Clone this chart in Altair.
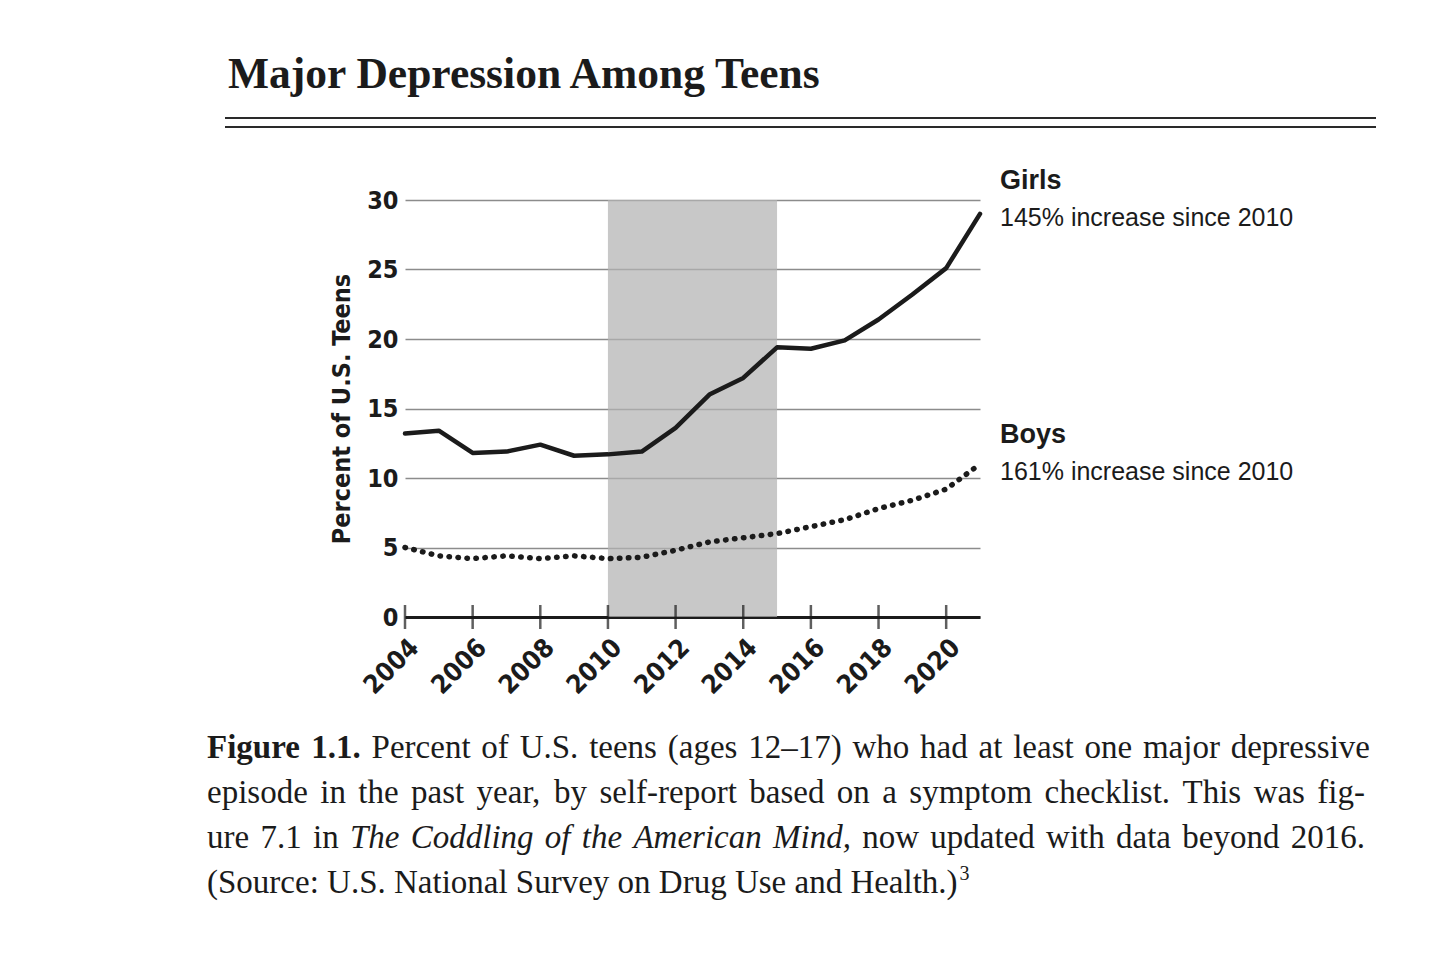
import altair as alt
import pandas as pd

# ---------------- data ----------------
years = list(range(2004, 2022))
girls = [13.2, 13.4, 11.8, 11.9, 12.4, 11.6, 11.7, 11.9, 13.6, 16.0, 17.2, 19.4,
         19.3, 19.9, 21.4, 23.2, 25.1, 29.0]
boys = [5.0, 4.4, 4.2, 4.4, 4.2, 4.4, 4.2, 4.3, 4.8, 5.4, 5.7, 6.0,
        6.5, 7.0, 7.8, 8.4, 9.2, 11.0]
tick_years = [2004, 2006, 2008, 2010, 2012, 2014, 2016, 2018, 2020]
y_ticks = [0, 5, 10, 15, 20, 25, 30]
band_start = [2010]
band_end = [2015]

title_text = "Major Depression Among Teens"
y_title = "Percent of U.S. Teens"
series_names = ["Girls", "Boys"]
series_notes = ["145% increase since 2010", "161% increase since 2010"]
cap1_bold = "Figure 1.1."
cap1_rest = "Percent of U.S. teens (ages 12\u201317) who had at least one major depressive"
cap2 = "episode in the past year, by self-report based on a symptom checklist. This was fig-"
cap3_a = "ure 7.1 in"
cap3_ital = "The Coddling of the American Mind,"
cap3_b = "now updated with data beyond 2016."
cap4 = "(Source: U.S. National Survey on Drug Use and Health.)"
cap4_note = "3"

# ---------------- layout ----------------
W, H = 575, 417
INK = "#1b1b1b"
SANS_C = "DejaVu Sans Condensed"
SANS = "Liberation Sans"
SERIF = "Liberation Serif"

# Times-compatible advance widths (per 1000 em) used to justify the caption
_REG = dict(zip("abcdefghijklmnopqrstuvwxyz",
                [444, 500, 444, 500, 444, 333, 500, 500, 278, 278, 500, 278, 778,
                 500, 500, 500, 500, 333, 389, 278, 500, 500, 722, 500, 500, 444]))
_REG.update(dict(zip("ABCDEFGHIJKLMNOPQRSTUVWXYZ",
                     [722, 667, 667, 722, 611, 556, 722, 722, 333, 389, 722, 611, 889,
                      722, 722, 556, 722, 667, 556, 611, 722, 722, 944, 722, 722, 611])))
_REG.update({c: 500 for c in "0123456789"})
_REG.update({" ": 250, ".": 250, ",": 250, ":": 278, ";": 278, "-": 333,
             "(": 333, ")": 333, "\u2013": 500})
_ITA = dict(_REG)
_ITA.update(dict(zip("abcdefghijklmnopqrstuvwxyz",
                     [500, 500, 444, 500, 444, 278, 500, 500, 278, 278, 444, 278, 722,
                      500, 500, 500, 500, 389, 389, 278, 500, 444, 667, 444, 444, 389])))
_ITA.update({"A": 611, "C": 667, "M": 833, "T": 556})
_BLD = dict(_REG)
_BLD.update({"F": 611, "i": 278, "g": 500, "u": 556, "r": 444, "e": 444})
_TABLES = {"r": _REG, "i": _ITA, "b": _BLD}


def tw(s, style, size):
    t = _TABLES[style]
    return sum(t.get(c, 500) for c in s) / 1000.0 * size


xs = alt.Scale(domain=[2004, 2021], nice=False, zero=False)
ys = alt.Scale(domain=[0, 30], nice=False, zero=True)

xaxis = alt.Axis(values=tick_years, format="d", title=None, labelAngle=-45,
                 labelFont=SANS_C, labelFontWeight="bold", labelFontSize=26,
                 labelColor=INK, labelPadding=17, ticks=False, grid=False,
                 domainColor=INK, domainWidth=3, labelFlush=False,
                 labelOverlap=False)
yaxis = alt.Axis(values=y_ticks, title=y_title, labelFont=SANS_C,
                 labelFontWeight="bold", labelFontSize=25, labelColor=INK,
                 labelPadding=7, ticks=False, domain=False, grid=True,
                 gridColor="#8c8c8c", gridWidth=1.5, labelFlush=False,
                 titleFont=SANS_C, titleFontWeight="bold", titleFontSize=25,
                 titleColor=INK, titlePadding=12)

X = alt.X("year:Q", scale=xs, axis=xaxis)
Y = alt.Y("pct:Q", scale=ys, axis=yaxis)

band = alt.Chart(pd.DataFrame({"year": band_start, "end": band_end})).mark_rect(
    color="#b3b3b3", opacity=0.72
).encode(x=X, x2="end:Q", y=alt.datum(0), y2=alt.datum(30))

girls_line = alt.Chart(pd.DataFrame({"year": years, "pct": girls})).mark_line(
    color=INK, strokeWidth=4.5, strokeJoin="round", strokeCap="round"
).encode(x=X, y=Y)

boys_line = alt.Chart(pd.DataFrame({"year": years, "pct": boys})).mark_line(
    color=INK, strokeWidth=5.5, strokeDash=[0.5, 8.5], strokeCap="round",
    strokeJoin="round"
).encode(x=X, y=Y)

ticks = alt.Chart(pd.DataFrame({"year": tick_years})).mark_tick(
    orient="vertical", size=24, thickness=2.5, color=INK
).encode(x=X, y=alt.datum(0))

one = pd.DataFrame({"k": [0]})

STYLE = {"r": ("normal", "normal"), "b": ("bold", "normal"), "i": ("normal", "italic")}


def txt(s, x, y, font, size, weight="normal", style="normal", color=INK):
    return alt.Chart(one).mark_text(
        text=s, font=font, fontSize=size, fontWeight=weight, fontStyle=style,
        color=color, align="left", baseline="alphabetic"
    ).encode(x=alt.value(x), y=alt.value(y))


def hrule(y, x1, x2, w):
    return alt.Chart(one).mark_rule(color="#2a2a2a", strokeWidth=w).encode(
        x=alt.value(x1), x2=alt.value(x2), y=alt.value(y))


layers = [band, girls_line, boys_line, ticks]

# heading and double rule
layers.append(txt(title_text, -177, -112, SERIF, 43.5, weight="bold"))
layers.append(hrule(-82, -180, 971, 2.2))
layers.append(hrule(-73, -180, 971, 2.0))

# series labels
layers.append(txt(series_names[0], 595, -11, SANS, 27, weight="bold"))
layers.append(txt(series_notes[0], 595, 26, SANS, 25))
layers.append(txt(series_names[1], 595, 243, SANS, 27, weight="bold"))
layers.append(txt(series_notes[1], 595, 280, SANS, 25))

# caption (justified lines built word by word)
CS = 33
X0 = -198


def justified(segments, y, right):
    toks = []
    for text, st in segments:
        toks += [(w, st) for w in text.split(" ")]
    widths = [tw(t, st, CS) for t, st in toks]
    gap = (right - X0 - sum(widths)) / (len(toks) - 1)
    x = X0
    for (t, st), wd in zip(toks, widths):
        weight, style = STYLE[st]
        layers.append(txt(t, x, y, SERIF, CS, weight=weight, style=style))
        x += wd + gap


justified([(cap1_bold, "b"), (cap1_rest, "r")], 558, 1370 - 405)
justified([(cap2, "r")], 603, 1365 - 405)
justified([(cap3_a, "r"), (cap3_ital, "i"), (cap3_b, "r")], 648, 1365 - 405)
layers.append(txt(cap4, X0, 693, SERIF, CS))
layers.append(txt(cap4_note, X0 + tw(cap4, "r", CS) + 2, 680, SERIF, 20))

chart = alt.layer(*layers).properties(
    width=W, height=H,
    padding={"left": 397, "top": 192, "right": 430, "bottom": 320},
    autosize=alt.AutoSizeParams(type="none"),
    background="white",
).configure_view(stroke=None)

chart.save("out.html", embed_options={"renderer": "svg", "actions": False})
